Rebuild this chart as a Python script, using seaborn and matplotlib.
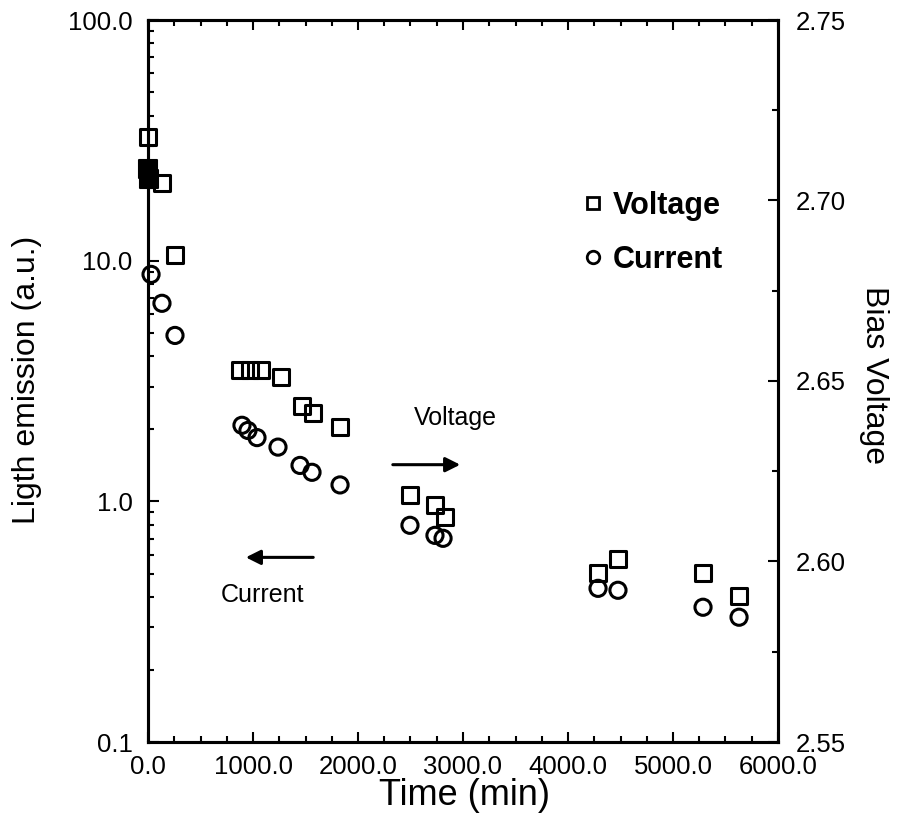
import matplotlib
matplotlib.use("Agg")
import matplotlib.pyplot as plt
from matplotlib.lines import Line2D
from matplotlib.ticker import FixedLocator, LogLocator, MultipleLocator, NullFormatter
import seaborn as sns
import pandas as pd

# current (left, log axis)
current_time = [29, 133, 257, 895, 952, 1038, 1238, 1448, 1562, 1829,
                2495, 2733, 2810, 4286, 4476, 5286, 5629]
current = [8.77, 6.65, 4.89, 2.07, 1.97, 1.84, 1.68, 1.41, 1.32, 1.17,
           0.795, 0.722, 0.702, 0.435, 0.427, 0.363, 0.330]

# bias voltage (right, linear axis)
voltage_time = [0, 133, 257, 876, 971, 1076, 1267, 1467, 1571, 1829,
                2495, 2733, 2829, 4286, 4476, 5286, 5629]
voltage = [2.7176, 2.7048, 2.6849, 2.6530, 2.6530, 2.6530, 2.6511, 2.6431, 2.6411, 2.6373,
           2.6184, 2.6157, 2.6123, 2.5968, 2.6007, 2.5968, 2.5904]
# the dark block at t=0
voltage_filled_time = [0, 10]
voltage_filled = [2.7087, 2.7060]

left_ticks = [0.1, 1, 10, 100]
left_ticklabels = ["0.1", "1.0", "10.0", "100.0"]
right_ticks = [2.55, 2.60, 2.65, 2.70, 2.75]
right_ticklabels = ["2.55", "2.60", "2.65", "2.70", "2.75"]
x_ticks = [0, 1000, 2000, 3000, 4000, 5000, 6000]
x_ticklabels = ["0.0", "1000.0", "2000.0", "3000.0", "4000.0", "5000.0", "6000.0"]

df_cur = pd.DataFrame({"time": current_time, "current": current})
df_volt = pd.DataFrame({"time": voltage_time, "voltage": voltage})
df_fill = pd.DataFrame({"time": voltage_filled_time, "voltage": voltage_filled})

sns.set_style("ticks")
plt.rcParams["font.family"] = ["Liberation Sans", "DejaVu Sans"]
plt.rcParams.update({"text.color": "black", "axes.labelcolor": "black",
                     "xtick.color": "black", "ytick.color": "black"})

fig = plt.figure(figsize=(8.98, 8.16), dpi=100)
ax = fig.add_axes([148 / 898, 1 - 742 / 816, 630 / 898, 722 / 816])
ax2 = ax.twinx()

sns.scatterplot(data=df_cur, x="time", y="current", ax=ax, marker="o", s=135,
                facecolors="none", edgecolor="black", linewidth=2.2, clip_on=False, zorder=3)
sns.scatterplot(data=df_volt, x="time", y="voltage", ax=ax2, marker="s", s=125,
                facecolors="none", edgecolor="black", linewidth=2.2, clip_on=False, zorder=3)
sns.scatterplot(data=df_fill, x="time", y="voltage", ax=ax2, marker="s", s=160,
                color="black", edgecolor="black", linewidth=1.5, clip_on=False, zorder=3)

ax.set_yscale("log")
ax.set_xlim(0, 6000)
ax.set_ylim(0.1, 100)
ax2.set_ylim(2.55, 2.75)

ax.set_xticks(x_ticks)
ax.set_xticklabels(x_ticklabels)
ax.xaxis.set_minor_locator(MultipleLocator(250))
ax.yaxis.set_major_locator(FixedLocator(left_ticks))
ax.set_yticklabels(left_ticklabels)
ax.yaxis.set_minor_locator(LogLocator(base=10, subs=range(2, 10)))
ax.yaxis.set_minor_formatter(NullFormatter())
ax2.set_yticks(right_ticks)
ax2.set_yticklabels(right_ticklabels)
ax2.yaxis.set_minor_locator(MultipleLocator(0.025))

ax.tick_params(axis="x", which="both", direction="in", top=True, labelsize=18.5, pad=9, width=1.5)
ax.tick_params(axis="x", which="major", length=7)
ax.tick_params(axis="x", which="minor", length=4)
ax.tick_params(axis="y", which="both", direction="in", right=False, labelsize=18.5, pad=11, width=1.5)
ax.tick_params(axis="y", which="major", length=8)
ax.tick_params(axis="y", which="minor", length=4)
ax2.tick_params(axis="y", which="both", direction="in", labelsize=18.5, pad=13, width=1.5)
ax2.tick_params(axis="y", which="major", length=7)
ax2.tick_params(axis="y", which="minor", length=4)

for a in (ax, ax2):
    for sp in a.spines.values():
        sp.set_linewidth(2.2)
        sp.set_color("black")

ax.set_xlabel("Time (min)", fontsize=26)
ax.xaxis.set_label_coords(0.503, -0.05)
ax.set_ylabel("Ligth emission (a.u.)", fontsize=23)
ax.yaxis.set_label_coords(-0.168, 0.501)
ax2.set_ylabel("Bias Voltage", fontsize=23, rotation=270, va="bottom")
ax2.yaxis.set_label_coords(1.128, 0.508)

# direction arrows
ax.annotate("", xy=(3000, 1.42), xytext=(2305, 1.42),
            arrowprops=dict(arrowstyle="-|>", lw=2.2, color="black", mutation_scale=22))
ax.text(2924, 2.21, "Voltage", fontsize=18, ha="center", va="center")
ax.annotate("", xy=(905, 0.585), xytext=(1600, 0.585),
            arrowprops=dict(arrowstyle="-|>", lw=2.2, color="black", mutation_scale=22))
ax.text(1086, 0.407, "Current", fontsize=18, ha="center", va="center")

handles = [
    Line2D([], [], marker="s", ls="none", mfc="none", mec="black", mew=2, ms=9),
    Line2D([], [], marker="o", ls="none", mfc="none", mec="black", mew=2, ms=9),
]
ax2.legend(handles, ["Voltage", "Current"], loc="upper left",
           bbox_to_anchor=(581 / 898, 1 - 191 / 816), bbox_transform=fig.transFigure,
           frameon=False, borderpad=0, borderaxespad=0, handlelength=0.8, handletextpad=0.25,
           labelspacing=0.78, prop={"size": 22, "weight": "bold"})

fig.savefig("out.png", dpi=100)
plt.close(fig)
